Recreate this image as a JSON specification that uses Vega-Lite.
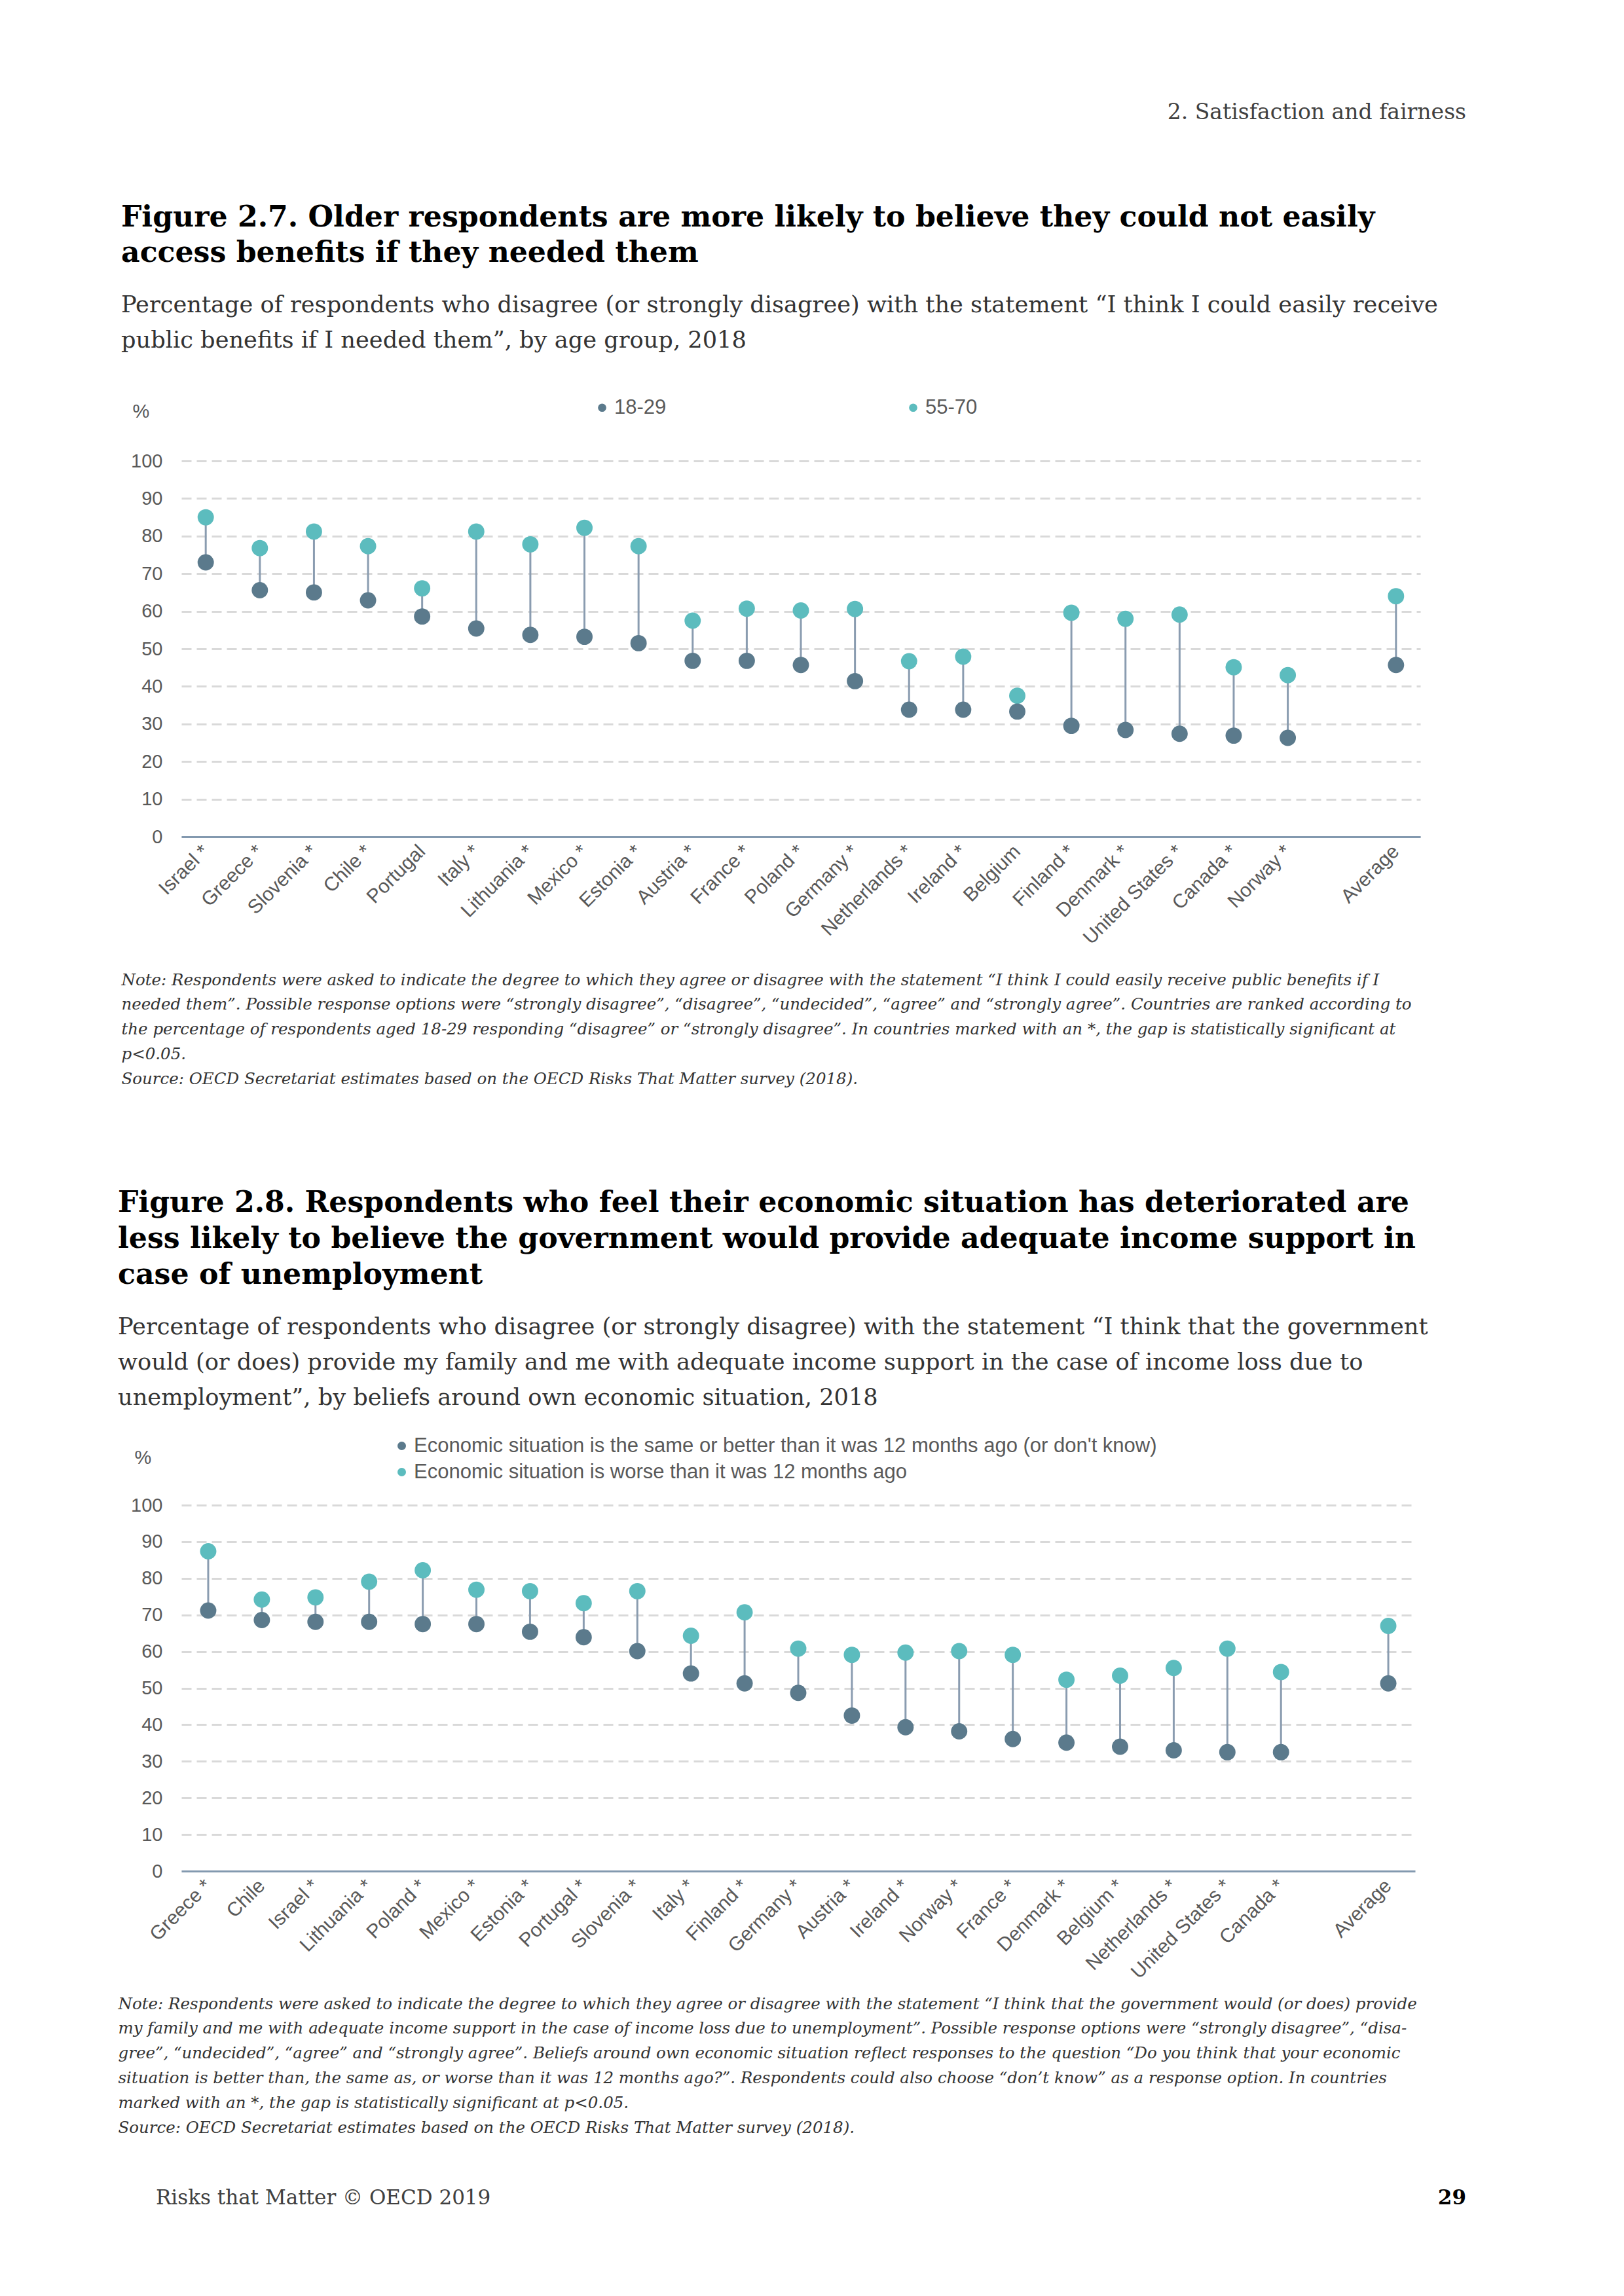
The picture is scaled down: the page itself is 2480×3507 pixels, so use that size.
{
  "$schema": "https://vega.github.io/schema/vega-lite/v6.json",
  "background": "white",
  "padding": {"left": 180, "top": 156, "right": 20, "bottom": 20},
  "config": {
    "view": {"stroke": null},
    "font": "Liberation Sans",
    "legend": {"padding": 0}
  },
  "title": {
    "text": "2. Satisfaction and fairness",
    "anchor": "end",
    "font": "DejaVu Serif",
    "fontSize": 33,
    "fontWeight": "normal",
    "color": "#404040",
    "offset": 121.5
  },
  "datasets": {
    "fig1": [
      {"country": "Israel *", "group": "55-70", "value": 85},
      {"country": "Israel *", "group": "18-29", "value": 73},
      {"country": "Greece *", "group": "55-70", "value": 76.8},
      {"country": "Greece *", "group": "18-29", "value": 65.6},
      {"country": "Slovenia *", "group": "55-70", "value": 81.2},
      {"country": "Slovenia *", "group": "18-29", "value": 65},
      {"country": "Chile *", "group": "55-70", "value": 77.3},
      {"country": "Chile *", "group": "18-29", "value": 62.9},
      {"country": "Portugal", "group": "55-70", "value": 66.1},
      {"country": "Portugal", "group": "18-29", "value": 58.6},
      {"country": "Italy *", "group": "55-70", "value": 81.2},
      {"country": "Italy *", "group": "18-29", "value": 55.4},
      {"country": "Lithuania *", "group": "55-70", "value": 77.8},
      {"country": "Lithuania *", "group": "18-29", "value": 53.7},
      {"country": "Mexico *", "group": "55-70", "value": 82.2},
      {"country": "Mexico *", "group": "18-29", "value": 53.2},
      {"country": "Estonia *", "group": "55-70", "value": 77.3},
      {"country": "Estonia *", "group": "18-29", "value": 51.5},
      {"country": "Austria *", "group": "55-70", "value": 57.5},
      {"country": "Austria *", "group": "18-29", "value": 46.8},
      {"country": "France *", "group": "55-70", "value": 60.7},
      {"country": "France *", "group": "18-29", "value": 46.8},
      {"country": "Poland *", "group": "55-70", "value": 60.2},
      {"country": "Poland *", "group": "18-29", "value": 45.7},
      {"country": "Germany *", "group": "55-70", "value": 60.6},
      {"country": "Germany *", "group": "18-29", "value": 41.4},
      {"country": "Netherlands *", "group": "55-70", "value": 46.7},
      {"country": "Netherlands *", "group": "18-29", "value": 33.8},
      {"country": "Ireland *", "group": "55-70", "value": 47.9},
      {"country": "Ireland *", "group": "18-29", "value": 33.8},
      {"country": "Belgium", "group": "55-70", "value": 37.5},
      {"country": "Belgium", "group": "18-29", "value": 33.3},
      {"country": "Finland *", "group": "55-70", "value": 59.6},
      {"country": "Finland *", "group": "18-29", "value": 29.5},
      {"country": "Denmark *", "group": "55-70", "value": 58},
      {"country": "Denmark *", "group": "18-29", "value": 28.4},
      {"country": "United States *", "group": "55-70", "value": 59.1},
      {"country": "United States *", "group": "18-29", "value": 27.4},
      {"country": "Canada *", "group": "55-70", "value": 45.1},
      {"country": "Canada *", "group": "18-29", "value": 26.9},
      {"country": "Norway *", "group": "55-70", "value": 43},
      {"country": "Norway *", "group": "18-29", "value": 26.3},
      {"country": "Average", "group": "55-70", "value": 64},
      {"country": "Average", "group": "18-29", "value": 45.7}
    ],
    "fig2": [
      {"country": "Greece *", "group": "Economic situation is worse than it was 12 months ago", "value": 87.4},
      {"country": "Greece *", "group": "Economic situation is the same or better than it was 12 months ago (or don't know)", "value": 71.2},
      {"country": "Chile", "group": "Economic situation is worse than it was 12 months ago", "value": 74.2},
      {"country": "Chile", "group": "Economic situation is the same or better than it was 12 months ago (or don't know)", "value": 68.6},
      {"country": "Israel *", "group": "Economic situation is worse than it was 12 months ago", "value": 74.8},
      {"country": "Israel *", "group": "Economic situation is the same or better than it was 12 months ago (or don't know)", "value": 68.1},
      {"country": "Lithuania *", "group": "Economic situation is worse than it was 12 months ago", "value": 79.1},
      {"country": "Lithuania *", "group": "Economic situation is the same or better than it was 12 months ago (or don't know)", "value": 68.1},
      {"country": "Poland *", "group": "Economic situation is worse than it was 12 months ago", "value": 82.2},
      {"country": "Poland *", "group": "Economic situation is the same or better than it was 12 months ago (or don't know)", "value": 67.5},
      {"country": "Mexico *", "group": "Economic situation is worse than it was 12 months ago", "value": 76.9},
      {"country": "Mexico *", "group": "Economic situation is the same or better than it was 12 months ago (or don't know)", "value": 67.5},
      {"country": "Estonia *", "group": "Economic situation is worse than it was 12 months ago", "value": 76.5},
      {"country": "Estonia *", "group": "Economic situation is the same or better than it was 12 months ago (or don't know)", "value": 65.4},
      {"country": "Portugal *", "group": "Economic situation is worse than it was 12 months ago", "value": 73.2},
      {"country": "Portugal *", "group": "Economic situation is the same or better than it was 12 months ago (or don't know)", "value": 63.9},
      {"country": "Slovenia *", "group": "Economic situation is worse than it was 12 months ago", "value": 76.5},
      {"country": "Slovenia *", "group": "Economic situation is the same or better than it was 12 months ago (or don't know)", "value": 60.1},
      {"country": "Italy *", "group": "Economic situation is worse than it was 12 months ago", "value": 64.3},
      {"country": "Italy *", "group": "Economic situation is the same or better than it was 12 months ago (or don't know)", "value": 54},
      {"country": "Finland *", "group": "Economic situation is worse than it was 12 months ago", "value": 70.7},
      {"country": "Finland *", "group": "Economic situation is the same or better than it was 12 months ago (or don't know)", "value": 51.3},
      {"country": "Germany *", "group": "Economic situation is worse than it was 12 months ago", "value": 60.8},
      {"country": "Germany *", "group": "Economic situation is the same or better than it was 12 months ago (or don't know)", "value": 48.7},
      {"country": "Austria *", "group": "Economic situation is worse than it was 12 months ago", "value": 59.1},
      {"country": "Austria *", "group": "Economic situation is the same or better than it was 12 months ago (or don't know)", "value": 42.5},
      {"country": "Ireland *", "group": "Economic situation is worse than it was 12 months ago", "value": 59.7},
      {"country": "Ireland *", "group": "Economic situation is the same or better than it was 12 months ago (or don't know)", "value": 39.3},
      {"country": "Norway *", "group": "Economic situation is worse than it was 12 months ago", "value": 60.1},
      {"country": "Norway *", "group": "Economic situation is the same or better than it was 12 months ago (or don't know)", "value": 38.2},
      {"country": "France *", "group": "Economic situation is worse than it was 12 months ago", "value": 59.1},
      {"country": "France *", "group": "Economic situation is the same or better than it was 12 months ago (or don't know)", "value": 36.1},
      {"country": "Denmark *", "group": "Economic situation is worse than it was 12 months ago", "value": 52.3},
      {"country": "Denmark *", "group": "Economic situation is the same or better than it was 12 months ago (or don't know)", "value": 35.1},
      {"country": "Belgium *", "group": "Economic situation is worse than it was 12 months ago", "value": 53.4},
      {"country": "Belgium *", "group": "Economic situation is the same or better than it was 12 months ago (or don't know)", "value": 34},
      {"country": "Netherlands *", "group": "Economic situation is worse than it was 12 months ago", "value": 55.5},
      {"country": "Netherlands *", "group": "Economic situation is the same or better than it was 12 months ago (or don't know)", "value": 33},
      {"country": "United States *", "group": "Economic situation is worse than it was 12 months ago", "value": 60.8},
      {"country": "United States *", "group": "Economic situation is the same or better than it was 12 months ago (or don't know)", "value": 32.5},
      {"country": "Canada *", "group": "Economic situation is worse than it was 12 months ago", "value": 54.4},
      {"country": "Canada *", "group": "Economic situation is the same or better than it was 12 months ago (or don't know)", "value": 32.5},
      {"country": "Average", "group": "Economic situation is worse than it was 12 months ago", "value": 67},
      {"country": "Average", "group": "Economic situation is the same or better than it was 12 months ago (or don't know)", "value": 51.3}
    ],
    "footer": [
      {"side": "left", "text": "Risks that Matter © OECD 2019"},
      {"side": "right", "text": "29"}
    ]
  },
  "spacing": 76,
  "vconcat": [
    {
      "spacing": 155,
      "resolve": {"scale": {"color": "independent"}, "legend": {"color": "independent"}},
      "vconcat": [
        {
          "width": 1892,
          "height": 574,
          "data": {"name": "fig1"},
          "title": {
            "text": ["Figure 2.7. Older respondents are more likely to believe they could not easily", "access benefits if they needed them"],
            "subtitle": ["Percentage of respondents who disagree (or strongly disagree) with the statement “I think I could easily receive", "public benefits if I needed them”, by age group, 2018"],
            "anchor": "start",
            "font": "DejaVu Serif",
            "fontSize": 44.2,
            "fontWeight": "bold",
            "color": "#000000",
            "lineHeight": 54,
            "subtitleFont": "DejaVu Serif",
            "subtitleFontSize": 35.2,
            "subtitleColor": "#333333",
            "subtitleLineHeight": 54,
            "subtitlePadding": 40,
            "offset": 69
          },
          "encoding": {
            "x": {
              "field": "country",
              "type": "nominal",
              "sort": null,
              "scale": {
                "type": "point",
                "padding": 0.45,
                "domain": ["Israel *", "Greece *", "Slovenia *", "Chile *", "Portugal", "Italy *", "Lithuania *", "Mexico *", "Estonia *", "Austria *", "France *", "Poland *", "Germany *", "Netherlands *", "Ireland *", "Belgium", "Finland *", "Denmark *", "United States *", "Canada *", "Norway *", " ", "Average"]
              },
              "axis": {
                "labelAngle": -45,
                "labelFontSize": 30,
                "labelColor": "#595959",
                "labelPadding": 7,
                "labelOffset": -11,
                "labelLimit": 400,
                "ticks": false,
                "grid": false,
                "domainColor": "#8399af",
                "domainWidth": 3,
                "title": [
                  "Note: Respondents were asked to indicate the degree to which they agree or disagree with the statement “I think I could easily receive public benefits if I",
                  "needed them”. Possible response options were “strongly disagree”, “disagree”, “undecided”, “agree” and “strongly agree”. Countries are ranked according to",
                  "the percentage of respondents aged 18-29 responding “disagree” or “strongly disagree”. In countries marked with an *, the gap is statistically significant at",
                  "p<0.05.",
                  "Source: OECD Secretariat estimates based on the OECD Risks That Matter survey (2018)."
                ],
                "titleFont": "DejaVu Serif",
                "titleFontStyle": "italic",
                "titleFontWeight": "normal",
                "titleFontSize": 24.5,
                "titleColor": "#333333",
                "titleAlign": "left",
                "titleAnchor": "start",
                "titleBaseline": "top",
                "titleX": -92,
                "titleY": 207,
                "titleLineHeight": 37.8,
                "titleLimit": 3000
              }
            }
          },
          "layer": [
            {
              "mark": {"type": "rule", "color": "#8a9cb0", "strokeWidth": 3},
              "encoding": {
                "y": {
                  "aggregate": "min",
                  "field": "value",
                  "type": "quantitative",
                  "scale": {"domain": [0, 100], "nice": false},
                  "axis": {
                    "title": "%",
                    "values": [0, 10, 20, 30, 40, 50, 60, 70, 80, 90, 100],
                    "grid": true,
                    "gridColor": "#d9d9d9",
                    "gridDash": [15, 8],
                    "gridWidth": 3,
                    "domain": false,
                    "ticks": false,
                    "labelPadding": 29,
                    "labelFontSize": 29,
                    "labelColor": "#595959",
                    "titleAngle": 0,
                    "titleAlign": "left",
                    "titleBaseline": "middle",
                    "titleX": -75,
                    "titleY": -76,
                    "titleFontSize": 29,
                    "titleFontWeight": "normal",
                    "titleColor": "#595959"
                  }
                },
                "y2": {"aggregate": "max", "field": "value"}
              }
            },
            {
              "mark": {"type": "circle", "size": 620, "opacity": 1},
              "encoding": {
                "y": {"field": "value", "type": "quantitative", "axis": {"title": "%"}},
                "color": {
                  "field": "group",
                  "type": "nominal",
                  "scale": {"domain": ["18-29", "55-70"], "range": ["#5b7a8c", "#5cbcbe"]},
                  "legend": {
                    "orient": "none",
                    "legendX": 627,
                    "legendY": -97,
                    "direction": "horizontal",
                    "title": null,
                    "symbolType": "circle",
                    "symbolSize": 160,
                    "symbolStrokeWidth": 0,
                    "labelFontSize": 31,
                    "labelColor": "#595959",
                    "labelOffset": 3,
                    "columnPadding": 361,
                    "labelLimit": 2000
                  }
                }
              }
            }
          ]
        },
        {
          "width": 1884,
          "height": 559,
          "data": {"name": "fig2"},
          "title": {
            "text": ["Figure 2.8. Respondents who feel their economic situation has deteriorated are", "less likely to believe the government would provide adequate income support in", "case of unemployment"],
            "subtitle": ["Percentage of respondents who disagree (or strongly disagree) with the statement “I think that the government", "would (or does) provide my family and me with adequate income support in the case of income loss due to", "unemployment”, by beliefs around own economic situation, 2018"],
            "anchor": "start",
            "font": "DejaVu Serif",
            "fontSize": 44.2,
            "fontWeight": "bold",
            "color": "#000000",
            "lineHeight": 55,
            "subtitleFont": "DejaVu Serif",
            "subtitleFontSize": 35.2,
            "subtitleColor": "#333333",
            "subtitleLineHeight": 54,
            "subtitlePadding": 40,
            "offset": 40
          },
          "encoding": {
            "x": {
              "field": "country",
              "type": "nominal",
              "sort": null,
              "scale": {
                "type": "point",
                "padding": 0.5,
                "domain": ["Greece *", "Chile", "Israel *", "Lithuania *", "Poland *", "Mexico *", "Estonia *", "Portugal *", "Slovenia *", "Italy *", "Finland *", "Germany *", "Austria *", "Ireland *", "Norway *", "France *", "Denmark *", "Belgium *", "Netherlands *", "United States *", "Canada *", " ", "Average"]
              },
              "axis": {
                "labelAngle": -45,
                "labelFontSize": 30,
                "labelColor": "#595959",
                "labelPadding": 7,
                "labelOffset": -11,
                "labelLimit": 400,
                "ticks": false,
                "grid": false,
                "domainColor": "#8399af",
                "domainWidth": 3,
                "title": [
                  "Note: Respondents were asked to indicate the degree to which they agree or disagree with the statement “I think that the government would (or does) provide",
                  "my family and me with adequate income support in the case of income loss due to unemployment”. Possible response options were “strongly disagree”, “disa-",
                  "gree”, “undecided”, “agree” and “strongly agree”. Beliefs around own economic situation reflect responses to the question “Do you think that your economic",
                  "situation is better than, the same as, or worse than it was 12 months ago?”. Respondents could also choose “don’t know” as a response option. In countries",
                  "marked with an *, the gap is statistically significant at p<0.05.",
                  "Source: OECD Secretariat estimates based on the OECD Risks That Matter survey (2018)."
                ],
                "titleFont": "DejaVu Serif",
                "titleFontStyle": "italic",
                "titleFontWeight": "normal",
                "titleFontSize": 24.5,
                "titleColor": "#333333",
                "titleAlign": "left",
                "titleAnchor": "start",
                "titleBaseline": "top",
                "titleX": -97,
                "titleY": 191,
                "titleLineHeight": 37.8,
                "titleLimit": 3000
              }
            }
          },
          "layer": [
            {
              "mark": {"type": "rule", "color": "#8a9cb0", "strokeWidth": 3},
              "encoding": {
                "y": {
                  "aggregate": "min",
                  "field": "value",
                  "type": "quantitative",
                  "scale": {"domain": [0, 100], "nice": false},
                  "axis": {
                    "title": "%",
                    "values": [0, 10, 20, 30, 40, 50, 60, 70, 80, 90, 100],
                    "grid": true,
                    "gridColor": "#d9d9d9",
                    "gridDash": [15, 8],
                    "gridWidth": 3,
                    "domain": false,
                    "ticks": false,
                    "labelPadding": 29,
                    "labelFontSize": 29,
                    "labelColor": "#595959",
                    "titleAngle": 0,
                    "titleAlign": "left",
                    "titleBaseline": "middle",
                    "titleX": -72,
                    "titleY": -73,
                    "titleFontSize": 29,
                    "titleFontWeight": "normal",
                    "titleColor": "#595959"
                  }
                },
                "y2": {"aggregate": "max", "field": "value"}
              }
            },
            {
              "mark": {"type": "circle", "size": 620, "opacity": 1},
              "encoding": {
                "y": {"field": "value", "type": "quantitative", "axis": {"title": "%"}},
                "color": {
                  "field": "group",
                  "type": "nominal",
                  "scale": {
                    "domain": ["Economic situation is the same or better than it was 12 months ago (or don't know)", "Economic situation is worse than it was 12 months ago"],
                    "range": ["#5b7a8c", "#5cbcbe"]
                  },
                  "legend": {
                    "orient": "none",
                    "legendX": 321,
                    "legendY": -106,
                    "direction": "vertical",
                    "title": null,
                    "symbolType": "circle",
                    "symbolSize": 170,
                    "symbolStrokeWidth": 0,
                    "labelFontSize": 31,
                    "labelColor": "#595959",
                    "labelOffset": 3,
                    "rowPadding": 8,
                    "labelLimit": 2000
                  }
                }
              }
            }
          ]
        }
      ]
    },
    {
      "width": 1962,
      "height": 40,
      "data": {"name": "footer"},
      "encoding": {
        "x": {
          "field": "side",
          "type": "nominal",
          "scale": {"type": "point", "padding": 0, "domain": ["left", "right"]},
          "axis": null
        },
        "text": {"field": "text"}
      },
      "layer": [
        {
          "transform": [{"filter": "datum.side == 'left'"}],
          "mark": {"type": "text", "align": "left", "dx": -39, "font": "DejaVu Serif", "fontSize": 31, "color": "#404040"}
        },
        {
          "transform": [{"filter": "datum.side == 'right'"}],
          "mark": {"type": "text", "align": "right", "font": "DejaVu Serif", "fontSize": 31, "fontWeight": "bold", "color": "#000000"}
        }
      ]
    }
  ]
}
